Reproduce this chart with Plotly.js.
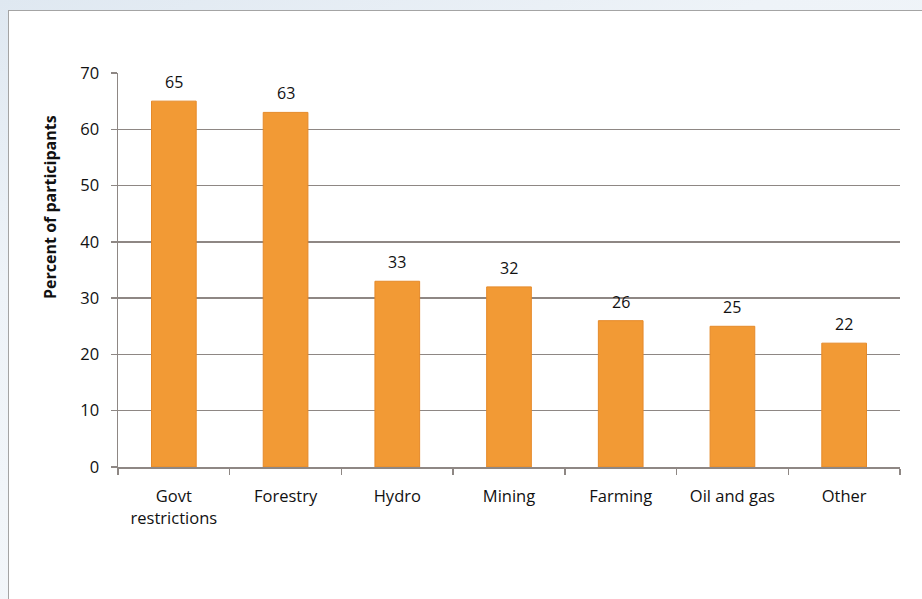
<!DOCTYPE html>
<html>
<head>
<meta charset="utf-8">
<script src="https://cdn.plot.ly/plotly-3.0.1.min.js"></script>
<style>
  html, body { margin: 0; padding: 0; width: 922px; height: 599px; overflow: hidden;
    background: linear-gradient(160deg, #dfe8f1 0%, #eef3f8 30%, #f7f9fb 100%); }
  #frame { position: absolute; left: 8px; top: 10px; width: 930px; height: 600px;
    background: #ffffff; border: 1px solid #a4a4a4; }
  #chart { position: absolute; left: 0; top: 0; width: 922px; height: 599px; }
</style>
</head>
<body>
<div id="frame"></div>
<div id="chart"></div>
<script>
const categories = ["Govt<br>restrictions", "Forestry", "Hydro", "Mining", "Farming", "Oil and gas", "Other"];
const values = [65, 63, 33, 32, 26, 25, 22];
const yTicks = [0, 10, 20, 30, 40, 50, 60, 70];
const yTitle = "Percent of participants";

const font = "Open Sans, Noto Sans, Liberation Sans, sans-serif";
const lineColor = "#8e8784";
const textColor = "#111111";

const trace = {
  type: "bar",
  x: categories,
  y: values,
  marker: { color: "#F29A35", line: { color: "#E58A2A", width: 1 } },
  hoverinfo: "none"
};

const annotations = categories.map((c, i) => ({
  x: c, y: values[i], xref: "x", yref: "y",
  text: String(values[i]), showarrow: false,
  yanchor: "bottom", yshift: 6,
  font: { family: font, size: 16, color: textColor }
}));
annotations.push({
  xref: "paper", yref: "paper", x: -0.087, y: 0.66,
  xanchor: "center", yanchor: "middle", textangle: -90,
  text: "<b>" + yTitle + "</b>", showarrow: false,
  font: { family: font, size: 16, color: textColor }
});

const layout = {
  width: 922, height: 599,
  margin: { l: 118, r: 22, t: 73, b: 132 },
  paper_bgcolor: "rgba(0,0,0,0)",
  plot_bgcolor: "rgba(0,0,0,0)",
  bargap: 0.6,
  showlegend: false,
  xaxis: {
    type: "category",
    showline: true, linecolor: lineColor, linewidth: 1.5,
    ticks: "outside", tickson: "boundaries", ticklen: 6, tickcolor: lineColor, tickwidth: 1.5,
    ticklabelstandoff: 14,
    tickfont: { family: font, size: 16.5, color: textColor },
    showgrid: false, zeroline: false
  },
  yaxis: {
    range: [0, 70],
    tickvals: yTicks,
    ticktext: yTicks.map(String),
    showline: true, linecolor: lineColor, linewidth: 1.5,
    ticks: "outside", ticklen: 6, tickcolor: lineColor, tickwidth: 1.5,
    ticklabelstandoff: 8,
    showgrid: true, gridcolor: lineColor, gridwidth: 1.5,
    zeroline: false,
    tickfont: { family: font, size: 16.5, color: textColor }
  },
  annotations: annotations
};

Plotly.newPlot("chart", [trace], layout, { displayModeBar: false, staticPlot: true });
</script>
</body>
</html>
